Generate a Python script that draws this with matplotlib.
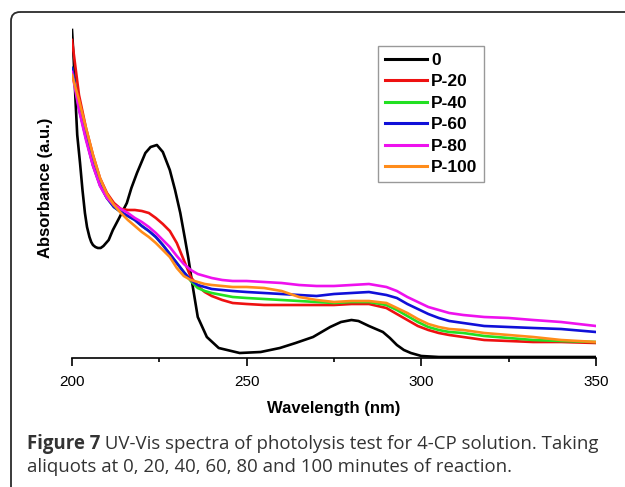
import matplotlib
matplotlib.use("Agg")
import matplotlib.pyplot as plt
from matplotlib.patches import FancyBboxPatch
from matplotlib.transforms import Affine2D
from matplotlib.ticker import MultipleLocator

# ---------------- data ----------------
wl_black = [200, 200.5, 201, 201.5, 202.3, 203, 203.7, 204.3, 205, 205.5, 206, 206.7,
            207.4, 208.2, 209, 210.5, 211.7, 213.5, 215.7, 217, 218.6, 221, 222.5,
            224.3, 226, 228, 229.5, 231, 232.4, 233.3, 234.4, 236, 238.6, 242, 248,
            254, 259.5, 264, 269, 273.9, 277, 280, 282, 285, 287, 289, 291, 293, 295,
            297, 300, 305, 350]
abs_0 = [3.28, 2.98, 2.58, 2.23, 1.95, 1.68, 1.45, 1.31, 1.21, 1.16, 1.13, 1.11,
         1.10, 1.10, 1.12, 1.18, 1.28, 1.40, 1.55, 1.70, 1.85, 2.05, 2.11,
         2.13, 2.06, 1.88, 1.68, 1.45, 1.18, 1.00, 0.75, 0.41, 0.21, 0.10, 0.05,
         0.06, 0.10, 0.15, 0.21, 0.31, 0.36, 0.38, 0.37, 0.32, 0.29, 0.26, 0.20,
         0.13, 0.08, 0.05, 0.02, 0.01, 0.01]

wl = [200, 202, 204, 206, 208, 210, 212, 214, 216, 218, 220, 222, 224, 226, 228,
      230, 232, 234, 236, 238, 240, 243, 246, 250, 255, 260, 265, 270, 275, 280,
      285, 290, 293, 296, 299, 302, 305, 308, 312, 318, 325, 332, 340, 350]
abs_p20 = [3.18, 2.63, 2.30, 2.03, 1.80, 1.65, 1.55, 1.49, 1.48, 1.48, 1.47, 1.45,
           1.40, 1.34, 1.27, 1.15, 0.98, 0.81, 0.72, 0.66, 0.62, 0.58, 0.55, 0.54,
           0.53, 0.53, 0.53, 0.53, 0.53, 0.54, 0.54, 0.50, 0.44, 0.38, 0.32, 0.28,
           0.25, 0.23, 0.21, 0.18, 0.17, 0.16, 0.16, 0.15]
abs_p40 = [2.90, 2.50, 2.20, 1.93, 1.73, 1.60, 1.51, 1.46, 1.42, 1.38, 1.32, 1.27,
           1.21, 1.13, 1.04, 0.95, 0.86, 0.77, 0.70, 0.67, 0.65, 0.63, 0.61, 0.60,
           0.59, 0.58, 0.57, 0.56, 0.55, 0.56, 0.56, 0.53, 0.48, 0.42, 0.36, 0.31,
           0.28, 0.26, 0.25, 0.22, 0.20, 0.18, 0.17, 0.16]
abs_p60 = [2.90, 2.50, 2.20, 1.93, 1.73, 1.60, 1.51, 1.46, 1.42, 1.38, 1.32, 1.27,
           1.21, 1.13, 1.04, 0.95, 0.86, 0.78, 0.73, 0.71, 0.69, 0.68, 0.67, 0.66,
           0.65, 0.64, 0.63, 0.62, 0.64, 0.65, 0.66, 0.63, 0.60, 0.54, 0.49, 0.44,
           0.40, 0.37, 0.35, 0.32, 0.31, 0.30, 0.29, 0.26]
abs_p80 = [2.86, 2.48, 2.18, 1.92, 1.72, 1.60, 1.53, 1.49, 1.45, 1.40, 1.36, 1.31,
           1.25, 1.18, 1.11, 1.02, 0.94, 0.88, 0.84, 0.82, 0.80, 0.78, 0.77, 0.77,
           0.76, 0.75, 0.73, 0.72, 0.72, 0.73, 0.74, 0.71, 0.67, 0.61, 0.56, 0.51,
           0.48, 0.45, 0.43, 0.41, 0.40, 0.38, 0.36, 0.32]
abs_p100 = [2.83, 2.58, 2.30, 2.03, 1.80, 1.64, 1.53, 1.45, 1.38, 1.32, 1.26, 1.21,
            1.15, 1.08, 1.01, 0.90, 0.82, 0.78, 0.76, 0.74, 0.73, 0.72, 0.71, 0.71,
            0.70, 0.67, 0.61, 0.58, 0.56, 0.57, 0.57, 0.55, 0.50, 0.45, 0.39, 0.34,
            0.31, 0.29, 0.28, 0.25, 0.23, 0.21, 0.18, 0.16]

labels = ["0", "P-20", "P-40", "P-60", "P-80", "P-100"]
colors = ["#000000", "#ee1111", "#22e022", "#1010d8", "#ee11ee", "#ff8c1a"]
x_ticks = [200, 250, 300, 350]

caption_bold = "Figure 7"
caption_rest = " UV-Vis spectra of photolysis test for 4-CP solution. Taking"
caption_line2 = "aliquots at 0, 20, 40, 60, 80 and 100 minutes of reaction."

# ---------------- figure ----------------
W, H = 625, 487
fig = plt.figure(figsize=(W / 100, H / 100), dpi=100)
fig.patch.set_facecolor("white")

px = Affine2D().scale(1 / W, -1 / H).translate(0, 1) + fig.transFigure

frame = FancyBboxPatch((11, 12), 700, 600, boxstyle="round,pad=0,rounding_size=9",
                       transform=px, fill=False, edgecolor="#2b2b2b", lw=1.3)
fig.patches.append(frame)

ax = fig.add_axes([72 / W, (H - 358) / H, 524 / W, 340 / H])
series = [(wl_black, abs_0), (wl, abs_p20), (wl, abs_p40), (wl, abs_p60),
          (wl, abs_p80), (wl, abs_p100)]
for (xs, ys), lab, c in zip(series, labels, colors):
    ax.plot(xs, ys, color=c, lw=1.9, label=lab, solid_joinstyle="round")

ax.set_xlim(200, 350)
ax.set_ylim(0, 3.4)
for s in ["top", "right", "left"]:
    ax.spines[s].set_visible(False)
ax.spines["bottom"].set_linewidth(1.2)
ax.set_yticks([])
ax.set_xticks(x_ticks)
ax.xaxis.set_minor_locator(MultipleLocator(25))
ax.tick_params(axis="x", which="major", direction="out", length=6, width=1.2, pad=6,
               labelsize=11)
ax.tick_params(axis="x", which="minor", direction="out", length=3, width=1.2)
for t in ax.get_xticklabels():
    t.set_fontfamily("Liberation Sans")

ax.set_xlabel("Wavelength (nm)", fontsize=12, fontweight="bold",
              fontfamily="Liberation Sans", labelpad=9)
ax.set_ylabel("Absorbance (a.u.)", fontsize=12, fontweight="bold",
              fontfamily="Liberation Sans", labelpad=14)

leg = ax.legend(loc="upper left", bbox_to_anchor=(378 / W, 1 - 46 / H),
                bbox_transform=fig.transFigure, frameon=True, fancybox=False,
                borderaxespad=0, handlelength=2.4, handletextpad=0.25,
                labelspacing=0.36, borderpad=0.4,
                prop={"family": "Liberation Sans", "weight": "bold", "size": 12.5})
leg.get_frame().set_edgecolor("#808080")
leg.get_frame().set_linewidth(1.0)
for line in leg.get_lines():
    line.set_linewidth(2.2)

# caption
renderer = fig.canvas.get_renderer()
cap_font = "Open Sans"
cap_size = 13.4
t1 = fig.text(27 / W, 1 - 444 / H, caption_bold, fontsize=cap_size, fontweight="bold",
              fontfamily=cap_font, color="#333333", va="center", ha="left")
bb = t1.get_window_extent(renderer=renderer)
fig.text(bb.x1 / W, 1 - 444 / H, caption_rest, fontsize=cap_size,
         fontfamily=cap_font, color="#333333", va="center", ha="left")
fig.text(27 / W, 1 - 467 / H, caption_line2, fontsize=cap_size,
         fontfamily=cap_font, color="#333333", va="center", ha="left")

fig.savefig("out.png", dpi=100)
